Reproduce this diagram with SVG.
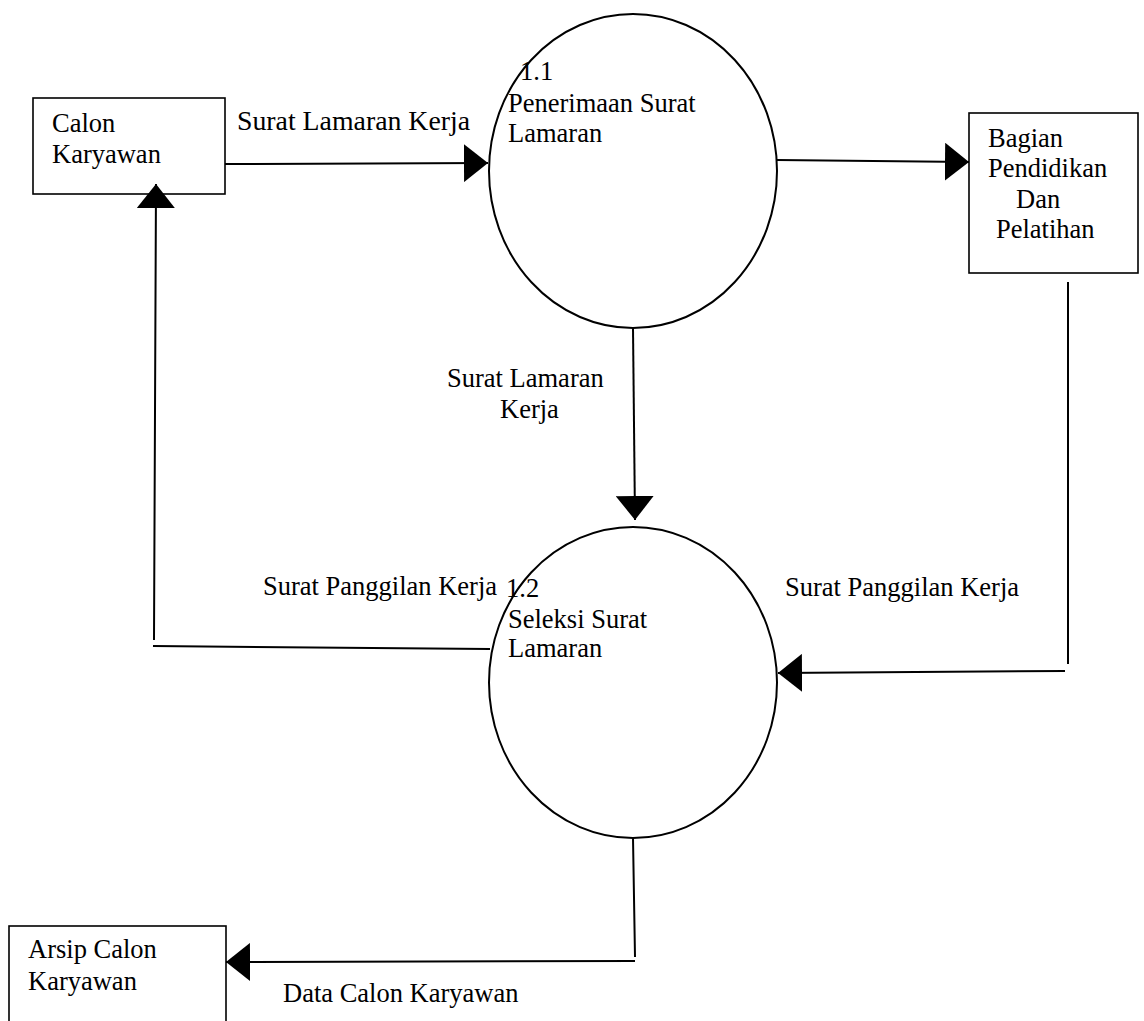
<svg xmlns="http://www.w3.org/2000/svg" width="1144" height="1021" viewBox="0 0 1144 1021">
  <style>
    text { font-family: "Liberation Serif", "Times New Roman", serif; font-size: 26.5px; fill: #000; }
    .big { font-size: 27.8px; }
    .box { fill: #fff; stroke: #000; stroke-width: 1.6; }
    .proc { fill: #fff; stroke: #000; stroke-width: 2; }
    .flow { fill: none; stroke: #000; stroke-width: 2; }
  </style>
  <defs>
    <marker id="ah" viewBox="0 0 24 38" refX="24" refY="19" markerWidth="24" markerHeight="38" markerUnits="userSpaceOnUse" orient="auto">
      <path d="M0,0 L24,19 L0,38 Z" fill="#000"/>
    </marker>
  </defs>
  <rect width="1144" height="1021" fill="#fff"/>

  <g id="calon-karyawan">
    <rect class="box" x="33" y="98" width="192" height="96"/>
    <text x="52" y="132">Calon</text>
    <text x="52" y="163">Karyawan</text>
  </g>

  <g id="proses-1-1">
    <ellipse class="proc" cx="633" cy="171" rx="144" ry="157"/>
    <text x="520" y="80">1.1</text>
    <text x="508" y="112">Penerimaan Surat</text>
    <text x="508" y="142">Lamaran</text>
  </g>

  <g id="bagian-pendidikan">
    <rect class="box" x="969" y="113" width="169" height="160"/>
    <text x="988" y="147">Bagian</text>
    <text x="988" y="177">Pendidikan</text>
    <text x="1016" y="208">Dan</text>
    <text x="996" y="238">Pelatihan</text>
  </g>

  <g id="proses-1-2">
    <ellipse class="proc" cx="633" cy="682.5" rx="144" ry="155.5"/>
    <text x="506" y="597">1.2</text>
    <text x="508" y="628">Seleksi Surat</text>
    <text x="508" y="657">Lamaran</text>
  </g>

  <g id="arsip-calon-karyawan">
    <rect class="box" x="9" y="926" width="217" height="110"/>
    <text x="28" y="958">Arsip Calon</text>
    <text x="28" y="990">Karyawan</text>
  </g>

  <g id="connectors">
    <path class="flow" d="M225,164 L488,163" marker-end="url(#ah)"/>
    <path class="flow" d="M777,160 L969,162" marker-end="url(#ah)"/>
    <path class="flow" d="M633,328 L635,520" marker-end="url(#ah)"/>
    <path class="flow" d="M1068,282 L1068,664 M1065,671 L778,673" marker-end="url(#ah)"/>
    <path class="flow" d="M490,649 L153,646 M154,640 L156,184" marker-end="url(#ah)"/>
    <path class="flow" d="M633,838 L635,957 M635,961 L226,962" marker-end="url(#ah)"/>
    <text class="big" x="237" y="130">Surat Lamaran Kerja</text>
    <text x="447" y="387">Surat Lamaran</text>
    <text x="500" y="418">Kerja</text>
    <text x="263" y="595">Surat Panggilan Kerja</text>
    <text x="785" y="596">Surat Panggilan Kerja</text>
    <text x="283" y="1002">Data Calon Karyawan</text>
  </g>
</svg>
